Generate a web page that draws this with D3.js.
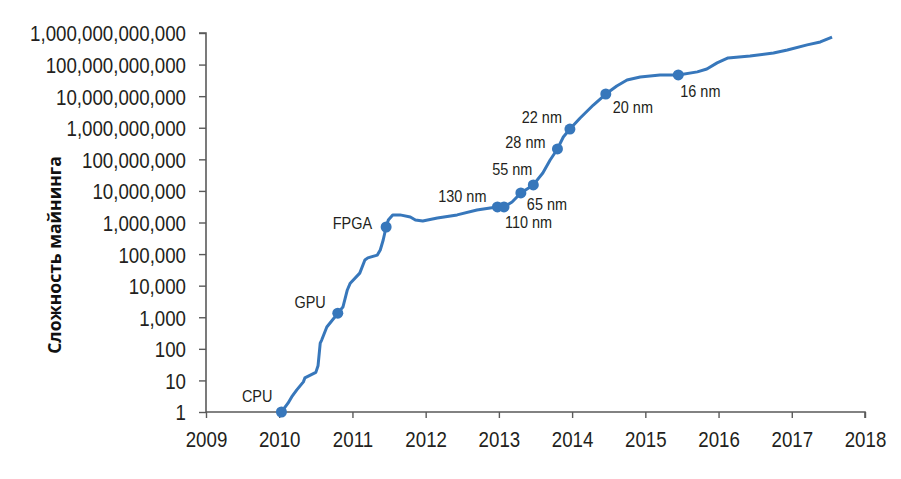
<!DOCTYPE html>
<html>
<head>
<meta charset="utf-8">
<script src="https://cdn.jsdelivr.net/npm/d3@7"></script>
<style>
  html, body { margin: 0; padding: 0; background: #fff; }
  svg { display: block; }
  .tick text { font-family: "Liberation Sans", Arial, sans-serif; font-size: 22px; fill: #231f20; }
</style>
</head>
<body>
<svg id="chart" width="901" height="479"></svg>
<script>
// ---- data ----
const years = [2010.03, 2010.12, 2010.17, 2010.24, 2010.33, 2010.35, 2010.50, 2010.53, 2010.56, 2010.58,
  2010.65, 2010.76, 2010.80, 2010.87, 2010.93, 2010.97, 2011.10, 2011.17, 2011.21, 2011.34,
  2011.38, 2011.42, 2011.46, 2011.49, 2011.55, 2011.65, 2011.79, 2011.86, 2011.96, 2012.16,
  2012.43, 2012.70, 2012.88, 2012.98, 2013.07, 2013.18, 2013.30, 2013.47, 2013.60, 2013.70,
  2013.80, 2013.88, 2013.97, 2014.11, 2014.29, 2014.46, 2014.61, 2014.75, 2014.93, 2015.20,
  2015.45, 2015.71, 2015.84, 2015.98, 2016.13, 2016.43, 2016.75, 2016.94, 2017.21, 2017.39, 2017.55];
const difficulty = [1, 1.9, 3, 5, 9, 12, 18, 29, 152, 190,
  490, 1020, 1350, 2100, 7300, 12000, 25000, 65000, 76000, 93000,
  135000, 280000, 720000, 1200000, 1740000, 1740000, 1500000, 1200000, 1120000, 1380000,
  1740000, 2500000, 2900000, 3100000, 3100000, 4450000, 8600000, 15500000, 37000000, 95000000,
  213000000, 510000000, 910000000, 2040000000, 5250000000, 11700000000, 21000000000, 32600000000, 40700000000, 46900000000,
  46900000000, 58700000000, 72400000000, 113000000000, 163000000000, 187000000000, 233000000000, 290000000000, 420000000000, 520000000000, 745000000000];

const milestoneLabels = ["CPU", "GPU", "FPGA", "130 nm", "110 nm", "65 nm", "55 nm", "28 nm", "22 nm", "20 nm", "16 nm"];
const milestoneYears  = [2010.03, 2010.80, 2011.46, 2012.98, 2013.07, 2013.30, 2013.47, 2013.80, 2013.97, 2014.46, 2015.45];
const milestoneValues = [1, 1350, 720000, 3100000, 3100000, 8600000, 15500000, 213000000, 910000000, 11700000000, 46900000000];

const xTicks = [2009, 2010, 2011, 2012, 2013, 2014, 2015, 2016, 2017, 2018];
const yTicks = [1, 10, 100, 1e3, 1e4, 1e5, 1e6, 1e7, 1e8, 1e9, 1e10, 1e11, 1e12];
const yTitle = "Сложность майнинга";

// ---- layout / style ----
const mLeft = 206, mRight = 865, mTop = 33, mBottom = 412;
const lineColor = "#3777bb";
const axisColor = "#5a5a5a";
const sx = 0.85; // horizontal condensing of the narrow typeface
// label offsets (dx, dy, anchor) relative to dot
const labelPlacement = [
  [-9, -10, "end"], [-12, -5, "end"], [-14, 2, "end"], [-11, -5, "end"], [1, 21, "start"],
  [6, 17, "start"], [-1, -10, "end"], [-12, -1, "end"], [-8, -6, "end"], [7, 19, "start"], [2, 22, "start"]
];

const svg = d3.select("#chart");
const x = d3.scaleLinear().domain([2009, 2018]).range([mLeft, mRight]);
const y = d3.scaleLog().domain([1, 1e12]).range([mBottom, mTop]);

// axes
const yAxis = d3.axisLeft(y).tickValues(yTicks).tickFormat(d3.format(",.0f")).tickSize(7).tickPadding(13);
const xAxis = d3.axisBottom(x).tickValues(xTicks).tickFormat(d3.format("d")).tickSize(6).tickPadding(13);

const gy = svg.append("g").attr("transform", `translate(${mLeft},0)`).call(yAxis);
const gx = svg.append("g").attr("transform", `translate(0,${mBottom})`).call(xAxis);
[gx, gy].forEach(g => {
  g.select(".domain").attr("stroke", axisColor).attr("stroke-width", 1.6);
  g.selectAll(".tick line").attr("stroke", axisColor).attr("stroke-width", 1.4);
});
gy.select(".domain").attr("d", `M-7,${mTop}H0V${mBottom}`);
gx.select(".domain").attr("d", `M${mLeft},0H${mRight}V6`);
gy.selectAll(".tick text")
  .attr("dy", "0.36em")
  .attr("x", -20 / sx)
  .attr("transform", `scale(${sx},1)`);
gx.selectAll(".tick text")
  .attr("dy", "0.72em")
  .attr("transform", `scale(${sx},1)`);

// y title
svg.append("text")
  .attr("transform", `translate(61,255) rotate(-90)`)
  .attr("text-anchor", "middle")
  .style("font-family", "'Open Sans', 'Liberation Sans', sans-serif")
  .style("font-weight", "bold")
  .style("font-size", "17.5px")
  .style("fill", "#111")
  .text(yTitle);

// line
const pts = years.map((yr, i) => [yr, difficulty[i]]);
svg.append("path")
  .datum(pts)
  .attr("fill", "none")
  .attr("stroke", lineColor)
  .attr("stroke-width", 3)
  .attr("stroke-linejoin", "round")
  .attr("d", d3.line().x(d => x(d[0])).y(d => y(d[1])));

// milestones
const ms = milestoneLabels.map((l, i) => ({ label: l, yr: milestoneYears[i], v: milestoneValues[i], p: labelPlacement[i] }));
svg.append("g").selectAll("circle").data(ms).join("circle")
  .attr("cx", d => x(d.yr)).attr("cy", d => y(d.v)).attr("r", 5.5)
  .attr("fill", lineColor);
svg.append("g").selectAll("g").data(ms).join("g")
  .attr("transform", d => `translate(${x(d.yr) + d.p[0]},${y(d.v) + d.p[1]}) scale(${sx},1)`)
  .append("text")
  .attr("text-anchor", d => d.p[2])
  .style("font-family", "'Liberation Sans', Arial, sans-serif")
  .style("font-size", "17px")
  .style("fill", "#231f20")
  .text(d => d.label);
</script>
</body>
</html>
